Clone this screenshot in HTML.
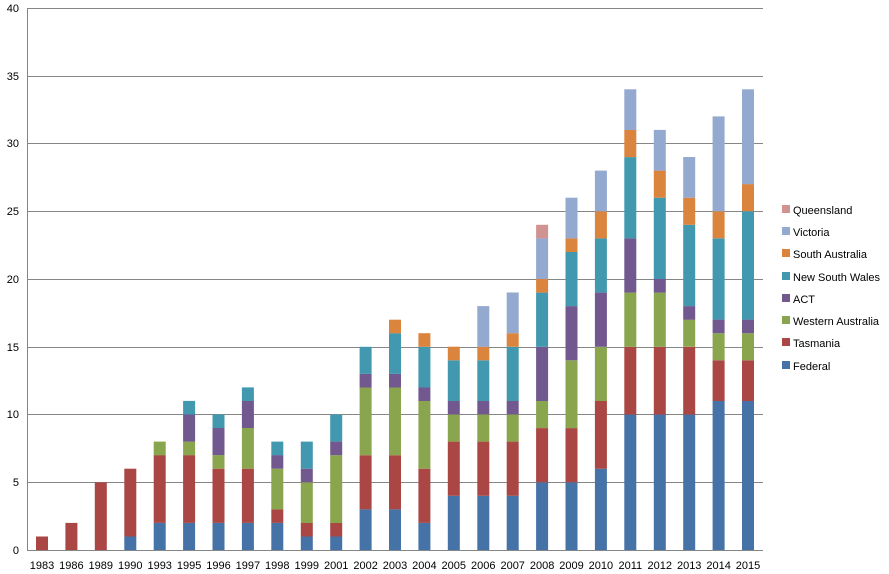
<!DOCTYPE html>
<html><head><meta charset="utf-8"><style>
body{margin:0;background:#fff;}
svg{display:block;font-family:"Liberation Sans",sans-serif;font-size:11px;fill:#000;}
</style></head><body>
<svg id="s" width="889" height="574" xmlns="http://www.w3.org/2000/svg">
<g stroke="#868686" stroke-width="1" shape-rendering="crispEdges">
<line x1="27" y1="8.5" x2="763" y2="8.5"/>
<line x1="27" y1="76.5" x2="763" y2="76.5"/>
<line x1="27" y1="143.5" x2="763" y2="143.5"/>
<line x1="27" y1="211.5" x2="763" y2="211.5"/>
<line x1="27" y1="279.5" x2="763" y2="279.5"/>
<line x1="27" y1="347.5" x2="763" y2="347.5"/>
<line x1="27" y1="414.5" x2="763" y2="414.5"/>
<line x1="27" y1="482.5" x2="763" y2="482.5"/>
<line x1="27" y1="550.5" x2="763" y2="550.5"/>
<line x1="27.5" y1="8" x2="27.5" y2="550"/>
</g>
<g text-anchor="end">
<text x="19" y="12">40</text><text x="19" y="80">35</text><text x="19" y="147">30</text>
<text x="19" y="215">25</text><text x="19" y="283">20</text><text x="19" y="351">15</text>
<text x="19" y="418">10</text><text x="19" y="486">5</text><text x="19" y="554">0</text>
</g>
<g id="bars"></g>
<g text-anchor="middle" id="xl">
<text x="42" y="569">1983</text><text x="66" y="569">1986</text><text x="91" y="569">1989</text>
<text x="115" y="569">1990</text><text x="139" y="569">1993</text><text x="164" y="569">1995</text>
<text x="188" y="569">1996</text><text x="212" y="569">1997</text><text x="237" y="569">1998</text>
<text x="261" y="569">1999</text><text x="285" y="569">2001</text><text x="310" y="569">2002</text>
<text x="334" y="569">2003</text><text x="358" y="569">2004</text><text x="383" y="569">2005</text>
<text x="407" y="569">2006</text><text x="431" y="569">2007</text><text x="456" y="569">2008</text>
<text x="480" y="569">2009</text><text x="504" y="569">2010</text><text x="529" y="569">2011</text>
<text x="553" y="569">2012</text><text x="577" y="569">2013</text><text x="602" y="569">2014</text>
<text x="626" y="569">2015</text>
</g>
<g>
<rect x="782" y="205" width="8" height="8" fill="#D19392"/><text x="793" y="214">Queensland</text>
<rect x="782" y="227" width="8" height="8" fill="#93A9CF"/><text x="793" y="236">Victoria</text>
<rect x="782" y="249" width="8" height="8" fill="#DB843D"/><text x="793" y="258">South Australia</text>
<rect x="782" y="272" width="8" height="8" fill="#4198AF"/><text x="793" y="281">New South Wales</text>
<rect x="782" y="294" width="8" height="8" fill="#71588F"/><text x="793" y="303">ACT</text>
<rect x="782" y="316" width="8" height="8" fill="#89A54E"/><text x="793" y="325">Western Australia</text>
<rect x="782" y="338" width="8" height="8" fill="#AA4643"/><text x="793" y="347">Tasmania</text>
<rect x="782" y="361" width="8" height="8" fill="#4572A7"/><text x="793" y="370">Federal</text>
</g>
</svg>
<script>
var years=[1983,1986,1989,1990,1993,1995,1996,1997,1998,1999,2001,2002,2003,2004,2005,2006,2007,2008,2009,2010,2011,2012,2013,2014,2015];
var d=[[0,1],[0,2],[0,5],[1,5],[2,5,1],[2,5,1,2,1],[2,4,1,2,1],[2,4,3,2,1],[2,1,3,1,1],[1,1,3,1,2],[1,1,5,1,2],
[3,4,5,1,2],[3,4,5,1,3,1],[2,4,5,1,3,1],[4,4,2,1,3,1],[4,4,2,1,3,1,3],[4,4,2,1,4,1,3],[5,4,2,4,4,1,3,1],
[5,4,5,4,4,1,3],[6,5,4,4,4,2,3],[10,5,4,4,6,2,3],[10,5,4,1,6,2,3],[10,5,2,1,6,2,3],[11,3,2,1,6,2,7],[11,3,2,1,8,2,7]];
var c=["#4572A7","#AA4643","#89A54E","#71588F","#4198AF","#DB843D","#93A9CF","#D19392"];
var k=13.55,sp=(748-42)/24,g=document.getElementById("bars"),xl=document.getElementById("xl").children,h="";
for(var i=0;i<d.length;i++){var cx=42+i*sp,y=550;xl[i].setAttribute("x",cx.toFixed(1));
for(var j=0;j<d[i].length;j++){var v=d[i][j];if(!v)continue;var hh=v*k;y-=hh;
h+='<rect x="'+(cx-6).toFixed(1)+'" y="'+y.toFixed(1)+'" width="12" height="'+hh.toFixed(1)+'" fill="'+c[j]+'"/>';}}
g.innerHTML=h;
</script>
</body></html>
